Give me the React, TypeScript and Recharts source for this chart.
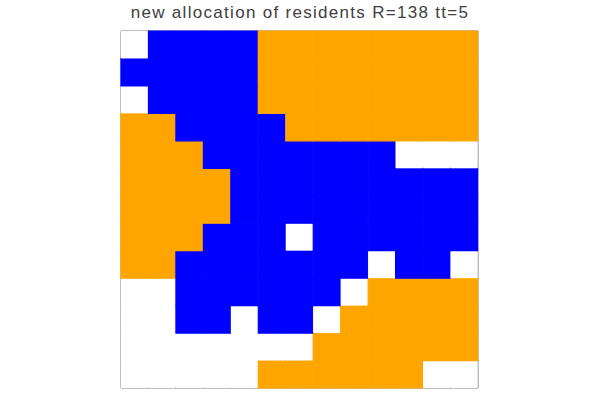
import React from "react";
import { BarChart, Bar, XAxis, YAxis, Cell, ReferenceArea } from "recharts";

// 0 = empty, 1 = blue group, 2 = orange group ; rows from top to bottom
const row0 = [0, 1, 1, 1, 1, 2, 2, 2, 2, 2, 2, 2, 2];
const row1 = [1, 1, 1, 1, 1, 2, 2, 2, 2, 2, 2, 2, 2];
const row2 = [0, 1, 1, 1, 1, 2, 2, 2, 2, 2, 2, 2, 2];
const row3 = [2, 2, 1, 1, 1, 1, 2, 2, 2, 2, 2, 2, 2];
const row4 = [2, 2, 2, 1, 1, 1, 1, 1, 1, 1, 0, 0, 0];
const row5 = [2, 2, 2, 2, 1, 1, 1, 1, 1, 1, 1, 1, 1];
const row6 = [2, 2, 2, 2, 1, 1, 1, 1, 1, 1, 1, 1, 1];
const row7 = [2, 2, 2, 1, 1, 1, 0, 1, 1, 1, 1, 1, 1];
const row8 = [2, 2, 1, 1, 1, 1, 1, 1, 1, 0, 1, 1, 0];
const row9 = [0, 0, 1, 1, 1, 1, 1, 1, 0, 2, 2, 2, 2];
const row10 = [0, 0, 1, 1, 0, 1, 1, 0, 2, 2, 2, 2, 2];
const row11 = [0, 0, 0, 0, 0, 0, 0, 2, 2, 2, 2, 2, 2];
const row12 = [0, 0, 0, 0, 0, 2, 2, 2, 2, 2, 2, 0, 0];

const grid = [row0, row1, row2, row3, row4, row5, row6, row7, row8, row9, row10, row11, row12];
const columns = ["c1", "c2", "c3", "c4", "c5", "c6", "c7", "c8", "c9", "c10", "c11", "c12", "c13"];
const colors = ["#ffffff", "#0000ff", "#ffa500"];
const title = "new allocation of residents R=138 tt=5";
const N = 13;

export default function App() {
  // one datum per column, one stacked unit per row
  const data = columns.map((name) => {
    const d: Record<string, any> = { name };
    grid.forEach((_, r) => { d["r" + r] = 1; });
    return d;
  });
  // stack bottom row first
  const stackOrder = grid.map((_, r) => N - 1 - r);
  return (
    <div style={{ position: "absolute", left: 0, top: 0, width: 600, height: 400, background: "#fff" }}>
      <div
        style={{
          position: "absolute",
          left: 0,
          top: 3,
          width: 600,
          textAlign: "center",
          fontFamily: "'Liberation Sans', Arial, sans-serif",
          fontSize: 17,
          letterSpacing: "1.3px",
          color: "#404040",
          lineHeight: "20px",
        }}
      >
        {title}
      </div>
      <BarChart
        width={600}
        height={400}
        data={data}
        barCategoryGap={0}
        barGap={0}
        margin={{ top: 31, right: 122, bottom: 12, left: 121 }}
      >
        <XAxis dataKey="name" type="category" hide />
        <YAxis type="number" domain={[0, N]} hide />
        {stackOrder.map((r) => (
          <Bar key={r} dataKey={"r" + r} stackId="s" isAnimationActive={false}>
            {grid[r].map((v, c) => (
              <Cell
                key={c}
                fill={colors[v]}
                stroke={v === 0 ? "none" : colors[v]}
                strokeWidth={v === 0 ? 0 : 1.2}
              />
            ))}
          </Bar>
        ))}
        <ReferenceArea
          x1="c1"
          x2="c13"
          y1={0}
          y2={N}
          fill="none"
          stroke="#7f7f7f"
          strokeWidth={1}
          ifOverflow="visible"
        />
      </BarChart>
    </div>
  );
}
